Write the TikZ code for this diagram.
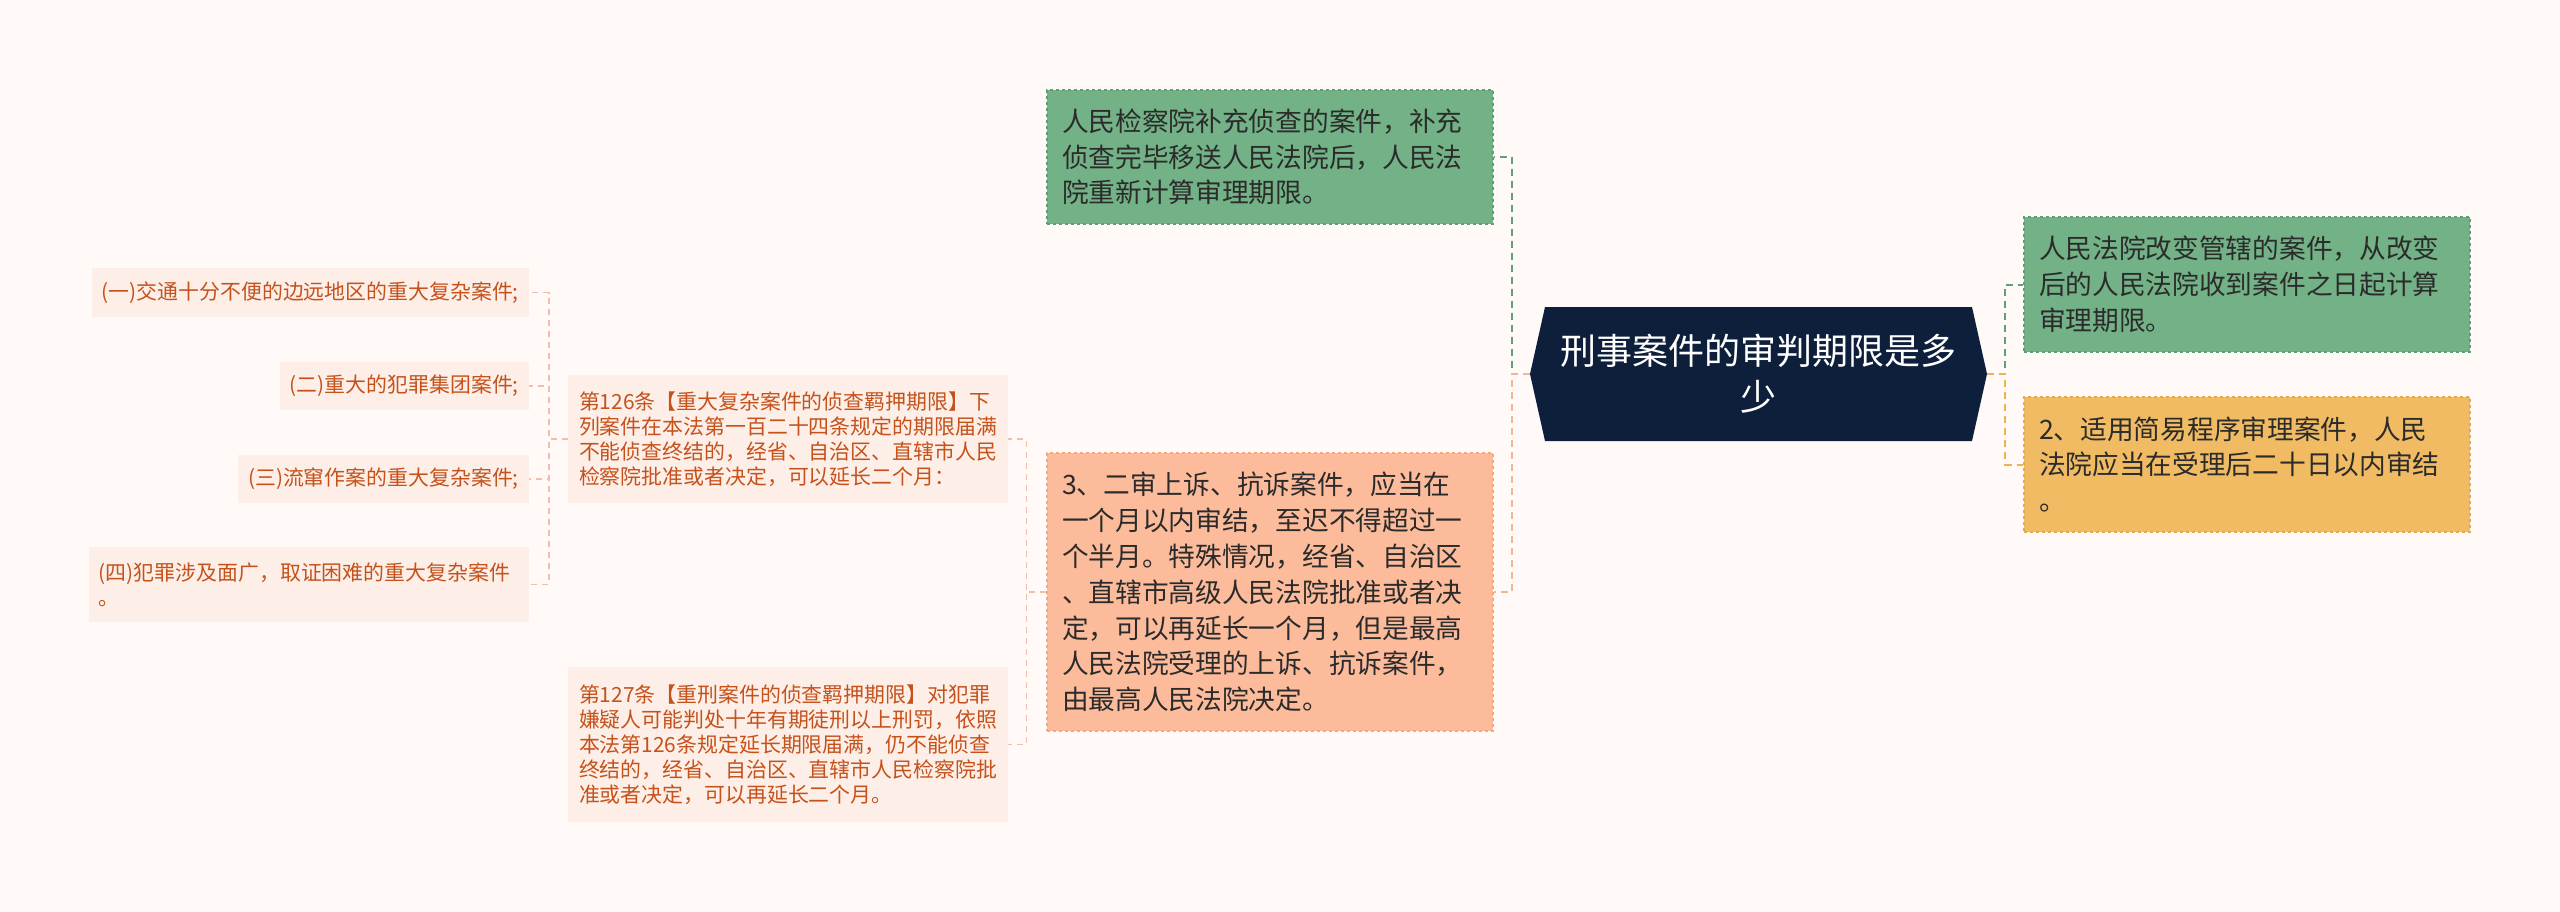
\documentclass[tikz,border=0pt]{standalone}
\usepackage{fontspec}
\setmainfont{Noto Sans CJK SC}
\usepackage{tikz}
\definecolor{pagebg}{HTML}{FFFAF8}
\definecolor{navy}{HTML}{0E1F3B}
\definecolor{textdark}{HTML}{2B2B2B}
\definecolor{greenfill}{HTML}{73B186}
\definecolor{greenline}{HTML}{5E9E74}
\definecolor{orangefill}{HTML}{FCBC9C}
\definecolor{orangeline}{HTML}{F3A884}
\definecolor{yellowfill}{HTML}{F0BB62}
\definecolor{yellowline}{HTML}{E3AA4C}
\definecolor{leaffill}{HTML}{FDEFE7}
\definecolor{leaftext}{HTML}{C5511B}
\definecolor{linkgreen}{HTML}{5DA07A}
\definecolor{linkorange}{HTML}{F5B594}
\definecolor{linkyellow}{HTML}{EBB452}
\definecolor{linkleaf}{HTML}{F2BDAA}
\newcommand{\branch}[4]{\path [draw, #4] (#1) -- ++(#2,0) |- (#3);}

\begin{document}
\begin{tikzpicture}[x=1pt, y=-1pt, every node/.style={inner sep=0pt, align=left, text=textdark},
 topic/.style={text=white, align=center, font=\fontsize{36}{46}\selectfont},
 mainbox/.style={draw, dashed, line width=1.2pt, inner xsep=15pt, text width=416pt, font=\fontsize{26.7}{35.8}\selectfont},
 lawbox/.style={fill=leaffill, text=leaftext, inner xsep=11pt, text width=418pt, font=\fontsize{20.9}{25}\selectfont},
 leaf/.style={fill=leaffill, text=leaftext, inner xsep=10pt, anchor=east, font=\fontsize{20.9}{25}\selectfont},
 link/.style={dash pattern=on 7pt off 5pt, line width=2pt},
 leaflink/.style={dash pattern=on 6pt off 5pt, line width=1.5pt, linkleaf}]

 \fill[pagebg] (0,0) rectangle (2560,912);

 \fill[navy] (1545,307) -- (1972,307) -- (1987,374) -- (1972,441) -- (1545,441) -- (1530,374) -- cycle;
 \node (root) [topic] at (1758.5,374) {刑事案件的审判期限是多\\少};
 \coordinate (root-w) at (1530,374);
 \coordinate (root-e) at (1987,374);

 \node (recount) [mainbox, fill=greenfill, draw=greenline, minimum height=134pt] at (1270,157)
  {人民检察院补充侦查的案件，补充\\侦查完毕移送人民法院后，人民法\\院重新计算审理期限。};
 \node (appeal) [mainbox, fill=orangefill, draw=orangeline, minimum height=278pt] at (1270,592)
  {3、二审上诉、抗诉案件，应当在\\一个月以内审结，至迟不得超过一\\个半月。特殊情况，经省、自治区\\、直辖市高级人民法院批准或者决\\定，可以再延长一个月，但是最高\\人民法院受理的上诉、抗诉案件，\\由最高人民法院决定。};
 \node (transfer) [mainbox, fill=greenfill, draw=greenline, minimum height=135pt] at (2247,284.5)
  {人民法院改变管辖的案件，从改变\\后的人民法院收到案件之日起计算\\审理期限。};
 \node (simple) [mainbox, fill=yellowfill, draw=yellowline, minimum height=135pt] at (2247,464.5)
  {2、适用简易程序审理案件，人民\\法院应当在受理后二十日以内审结\\。};

 \node (art126) [lawbox, minimum height=128pt] at (788,439)
  {第126条【重大复杂案件的侦查羁押期限】下\\列案件在本法第一百二十四条规定的期限届满\\不能侦查终结的，经省、自治区、直辖市人民\\检察院批准或者决定，可以延长二个月：};
 \node (art127) [lawbox, minimum height=155pt] at (788,744.5)
  {第127条【重刑案件的侦查羁押期限】对犯罪\\嫌疑人可能判处十年有期徒刑以上刑罚，依照\\本法第126条规定延长期限届满，仍不能侦查\\终结的，经省、自治区、直辖市人民检察院批\\准或者决定，可以再延长二个月。};

 \node (case1) [leaf, minimum height=49pt, minimum width=437pt] at (529,292.5) {(一)交通十分不便的边远地区的重大复杂案件;};
 \node (case2) [leaf, minimum height=48pt] at (529,386) {(二)重大的犯罪集团案件;};
 \node (case3) [leaf, minimum height=48pt] at (529,479) {(三)流窜作案的重大复杂案件;};
 \node (case4) [leaf, minimum height=75pt, text width=420pt] at (529,584.5) {(四)犯罪涉及面广，取证困难的重大复杂案件\\。};

 \branch{root-w}{-18}{recount.east}{link, linkgreen}
 \branch{root-w}{-18}{appeal.east}{link, linkorange}
 \branch{root-e}{18}{transfer.west}{link, linkgreen}
 \branch{root-e}{18}{simple.west}{link, linkyellow}
 \branch{appeal.west}{-20}{art126.east}{leaflink}
 \branch{appeal.west}{-20}{art127.east}{leaflink}
 \branch{art126.west}{-19}{case1.east}{leaflink}
 \branch{art126.west}{-19}{case2.east}{leaflink}
 \branch{art126.west}{-19}{case3.east}{leaflink}
 \branch{art126.west}{-19}{case4.east}{leaflink}
\end{tikzpicture}
\end{document}
